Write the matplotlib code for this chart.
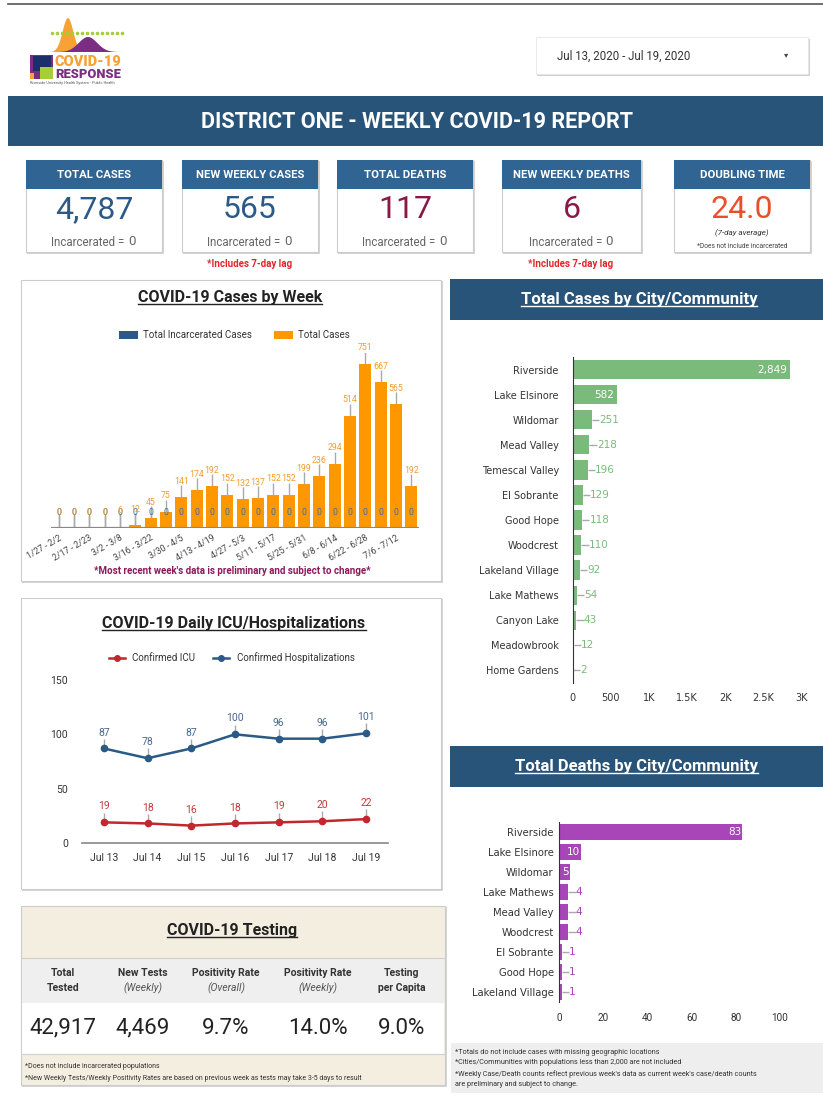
import numpy as np
import matplotlib
matplotlib.use('Agg')
import matplotlib.pyplot as plt
from matplotlib.patches import Rectangle, Polygon

plt.rcParams['font.family'] = ['Roboto', 'DejaVu Sans']

W, H = 823, 1096

# ---- data ----
kpi_titles = ['TOTAL CASES', 'NEW WEEKLY CASES', 'TOTAL DEATHS', 'NEW WEEKLY DEATHS', 'DOUBLING TIME']
kpi_values = ['4,787', '565', '117', '6', '24.0']
kpi_incarcerated = ['0', '0', '0', '0', None]

week_labels = ['1/27 - 2/2', '2/10 - 2/16', '2/17 - 2/23', '2/24 - 3/1', '3/2 - 3/8', '3/9 - 3/15',
               '3/16 - 3/22', '3/23 - 3/29', '3/30 - 4/5', '4/6 - 4/12', '4/13 - 4/19', '4/20 - 4/26',
               '4/27 - 5/3', '5/4 - 5/10', '5/11 - 5/17', '5/18 - 5/24', '5/25 - 5/31', '6/1 - 6/7',
               '6/8 - 6/14', '6/15 - 6/21', '6/22 - 6/28', '6/29 - 7/5', '7/6 - 7/12', '7/13 - 7/19']
total_cases = [0, 0, 0, 0, 6, 12, 45, 75, 141, 174, 192, 152, 132, 137, 152, 152, 199, 236, 294,
               514, 751, 667, 565, 192]
incarcerated_cases = [0, 0, 0, 0, 0, 0, 0, 0, 0, 0, 0, 0, 0, 0, 0, 0, 0, 0, 0, 0, 0, 0, 0, 0]

days = ['Jul 13', 'Jul 14', 'Jul 15', 'Jul 16', 'Jul 17', 'Jul 18', 'Jul 19']
icu = [19, 18, 16, 18, 19, 20, 22]
hosp = [87, 78, 87, 100, 96, 96, 101]

test_headers = [('Total', 'Tested'), ('New Tests', '(Weekly)'), ('Positivity Rate', '(Overall)'),
                ('Positivity Rate', '(Weekly)'), ('Testing', 'per Capita')]
test_values = ['42,917', '4,469', '9.7%', '14.0%', '9.0%']

case_cities = ['Riverside', 'Lake Elsinore', 'Wildomar', 'Mead Valley', 'Temescal Valley', 'El Sobrante',
               'Good Hope', 'Woodcrest', 'Lakeland Village', 'Lake Mathews', 'Canyon Lake',
               'Meadowbrook', 'Home Gardens']
city_cases = [2849, 582, 251, 218, 196, 129, 118, 110, 92, 54, 43, 12, 2]
death_cities = ['Riverside', 'Lake Elsinore', 'Wildomar', 'Lake Mathews', 'Mead Valley', 'Woodcrest',
                'El Sobrante', 'Good Hope', 'Lakeland Village']
city_deaths = [83, 10, 5, 4, 4, 4, 1, 1, 1]

# ---- colours ----
NAVY = '#285479'
CARD_BLUE = '#2f6493'
ORANGE = '#ff9800'
MAROON = '#8a1846'
GREEN = '#7aba7a'
PURPLE = '#a845b8'
ICU_RED = '#c1272d'
HOSP_BLUE = '#2b5a86'

fig = plt.figure(figsize=(W / 100, H / 100), dpi=100)
bg = fig.add_axes([0, 0, 1, 1])
bg.set_xlim(0, W)
bg.set_ylim(H, 0)
bg.axis('off')
renderer = fig.canvas.get_renderer()


def px_axes(x0, y0, x1, y1):
    ax = fig.add_axes([x0 / W, 1 - y1 / H, (x1 - x0) / W, (y1 - y0) / H])
    ax.set_facecolor('none')
    return ax


def rect(x0, y0, x1, y1, fc, ec='none', lw=0, z=1):
    bg.add_patch(Rectangle((x0, y0), x1 - x0, y1 - y0, fc=fc, ec=ec, lw=lw, zorder=z))


def panel(x0, y0, x1, y1, fc='white'):
    rect(x0 + 1, y0 + 1, x1 + 2, y1 + 2, '#d4d4d4', z=1)
    rect(x0, y0, x1, y1, fc, ec='#cccccc', lw=0.8, z=2)


def title(x, y, s, size, color='#222222'):
    t = bg.text(x, y, s, ha='center', va='baseline', fontsize=size, fontweight='bold', color=color, zorder=5)
    w = t.get_window_extent(renderer).width
    bg.plot([x - w / 2, x + w / 2], [y + 2.2, y + 2.2], color=color, lw=1, zorder=5)


# ---- header ----
bg.plot([8, W], [4, 4], color='#555555', lw=1.2)

# logo
xs = np.linspace(44, 104, 80)
bg.add_patch(Polygon(np.column_stack([xs, 52 - 34 * np.exp(-((xs - 68) / 7.5) ** 2)]), fc='#f7a234', zorder=3))
xs2 = np.linspace(52, 128, 80)
bg.add_patch(Polygon(np.column_stack([xs2, 52 - 15 * np.exp(-((xs2 - 88) / 13) ** 2)]), fc='#7b2d83', zorder=4))
bg.scatter(np.arange(52, 126, 5), np.full(15, 33), s=2.5, color='#a6ce39', zorder=5)
rect(30, 55, 53, 79, '#7b2d83', z=3)
rect(33, 56, 51, 71, '#1d2f6b', z=4)
rect(40, 67, 53, 79, '#a6ce39', z=5)
rect(30, 73, 34, 79, '#f7a234', z=5)
bg.text(55, 62, 'COVID-19', fontsize=10.5, fontweight='heavy', color='#f7a234', va='center', zorder=5)
bg.text(55, 74, 'RESPONSE', fontsize=9.3, fontweight='heavy', color='#7b2d83', va='center', zorder=5)
bg.text(30, 83, 'Riverside University Health System - Public Health', fontsize=2.8, color='#555', va='center')

# date box
rect(537, 39, 810, 76, '#d0d0d0', z=1)
rect(536, 37, 808, 74, 'white', ec='#e6e6e6', lw=0.6, z=2)
bg.text(557, 56, 'Jul 13, 2020 - Jul 19, 2020', fontsize=8.3, color='#333333', va='center', zorder=3)
bg.text(786, 55, '\u25be', fontsize=6, color='#444', va='center', ha='center', zorder=3, family='DejaVu Sans')

# banner
rect(8, 96, W, 146, NAVY)
bg.text(417, 122, 'DISTRICT ONE - WEEKLY COVID-19 REPORT', fontsize=15.6, fontweight='bold', color='white',
        ha='center', va='center')

# ---- KPI cards ----
cards = [(26, 162), (182, 318), (337, 473), (502, 641), (674, 810)]
kpi_colors = [HOSP_BLUE, HOSP_BLUE, MAROON, MAROON, '#e8502a']
for (x0, x1), ttl, val, inc, col in zip(cards, kpi_titles, kpi_values, kpi_incarcerated, kpi_colors):
    panel(x0, 160, x1, 252)
    rect(x0, 160, x1, 189, CARD_BLUE, z=3)
    cx = (x0 + x1) / 2
    bg.text(cx, 175, ttl, fontsize=8.2, fontweight='bold', color='white', ha='center', va='center', zorder=4)
    bg.text(cx, 210, val, fontsize=23, fontweight='normal', color=col, ha='center', va='center', zorder=4)
    if inc is not None:
        bg.text(cx - 6, 242, 'Incarcerated =', fontsize=8.3, color='#666666',
                ha='center', va='center', zorder=4)
        bg.text(cx + 38, 241.5, inc, fontsize=9.5, color='#666666', ha='center', va='center', zorder=4)
    else:
        bg.text(cx, 233, '(7-day average)', fontsize=5.8, style='italic', color='#333', ha='center',
                va='center', zorder=4)
        bg.text(cx, 247, '*Does not include incarcerated', fontsize=4.8, color='#444', ha='center',
                va='center', zorder=4)
for cx in [250, 571]:
    bg.text(cx, 264, '*Includes 7-day lag', fontsize=7, fontweight='bold', color='#e0262b',
            ha='center', va='center')

# ---- COVID-19 Cases by Week ----
panel(21, 280, 441, 581)
title(230, 302, 'COVID-19 Cases by Week', 11.5)
rect(119, 331, 138, 339, HOSP_BLUE, z=3)
bg.text(143, 335, 'Total Incarcerated Cases', fontsize=7, color='#333', va='center', zorder=3)
rect(274, 331, 293, 339, ORANGE, z=3)
bg.text(298, 335, 'Total Cases', fontsize=7, color='#333', va='center', zorder=3)

ax1 = px_axes(51, 353, 419, 528)
x = np.arange(len(total_cases))
ax1.bar(x, total_cases, width=0.78, color=ORANGE, zorder=2)
ax1.bar(x, incarcerated_cases, width=0.78, color=HOSP_BLUE, zorder=2)
ax1.set_xlim(-0.5, len(x) - 0.5)
ax1.set_ylim(0, 800)
for i, (v, c) in enumerate(zip(total_cases, incarcerated_cases)):
    ax1.vlines(i, c, c + 62, color='#999999', lw=1, zorder=1)
    ax1.text(i, c + 72, str(c), color='#3f6f9a', fontsize=6.3, ha='center', va='center', zorder=4)
    ax1.vlines(i, v, v + 55, color='#aaaaaa', lw=1, zorder=3)
    ax1.text(i, v + 52, str(v), color='#f79a2a', fontsize=6.3, ha='center', va='bottom', zorder=4)
ax1.axhline(0, color='#888888', lw=1.6, zorder=3)
for s in ax1.spines.values():
    s.set_visible(False)
ax1.set_yticks([])
ax1.set_xticks(x[::2])
ax1.set_xticklabels(week_labels[::2], rotation=30, ha='right', rotation_mode='anchor', fontsize=6.3,
                    color='#444444')
ax1.tick_params(axis='x', length=0, pad=4)
bg.text(232, 571, "*Most recent week's data is preliminary and subject to change*", fontsize=7,
        fontweight='bold', color='#8a1a5a', ha='center', va='center', zorder=3)

# ---- ICU / Hospitalizations ----
panel(21, 598, 441, 889)
title(234, 628, 'COVID-19 Daily ICU/Hospitalizations', 11.5)
bg.plot([109, 125], [658, 658], color=ICU_RED, lw=1.8, zorder=3)
bg.plot([117], [658], color=ICU_RED, marker='o', ms=4, zorder=3)
bg.text(132, 658, 'Confirmed ICU', fontsize=7, color='#333', va='center', zorder=3)
bg.plot([213, 229], [658, 658], color=HOSP_BLUE, lw=1.8, zorder=3)
bg.plot([221], [658], color=HOSP_BLUE, marker='o', ms=4, zorder=3)
bg.text(237, 658, 'Confirmed Hospitalizations', fontsize=7, color='#333', va='center', zorder=3)

ax2 = px_axes(82, 680, 388, 843)
xd = np.arange(len(days))
for series, col, lcol in [(hosp, HOSP_BLUE, '#46698f'), (icu, ICU_RED, '#c0393b')]:
    ax2.plot(xd, series, color=col, lw=1.8, marker='o', ms=4.5, zorder=3)
    for i, v in enumerate(series):
        ax2.vlines(i, v, v + 9, color='#aaaaaa', lw=1, zorder=2)
        ax2.text(i, v + 10, str(v), color=lcol, fontsize=7.5, ha='center', va='bottom', zorder=4)
ax2.set_xlim(-0.5, 6.5)
ax2.set_ylim(0, 150)
for k in ['top', 'right', 'left']:
    ax2.spines[k].set_visible(False)
ax2.spines['bottom'].set_color('#888888')
ax2.spines['bottom'].set_linewidth(1.2)
ax2.set_yticks([0, 50, 100, 150])
ax2.set_xticks(xd)
ax2.set_xticklabels(days)
ax2.tick_params(length=0, labelsize=7.5, labelcolor='#333333')
ax2.tick_params(axis='y', pad=10)
ax2.tick_params(axis='x', pad=7)

# ---- Testing table ----
rect(22, 907, 447, 1087, '#d4d4d4', z=1)
rect(21, 906, 445, 1085, '#f3eedf', ec='#cccccc', lw=0.8, z=2)
rect(22, 958, 444, 1003, '#efefef', z=3)
rect(22, 1003, 444, 1054, 'white', z=3)
bg.plot([22, 444], [958, 958], color='#d0d0d0', lw=0.8, zorder=4)
bg.plot([22, 444], [1054, 1054], color='#d0d0d0', lw=0.8, zorder=4)
title(232, 935, 'COVID-19 Testing', 11.5)
col_x = [63, 143, 226, 318, 402]
for cx, (h1, h2), v in zip(col_x, test_headers, test_values):
    italic = h2.startswith('(')
    bg.text(cx, 973, h1, fontsize=7.5, fontweight='bold', color='#333', ha='center', va='center', zorder=5)
    bg.text(cx, 988, h2, fontsize=7.5, fontweight='normal' if italic else 'bold',
            style='italic' if italic else 'normal', color='#555' if italic else '#333',
            ha='center', va='center', zorder=5)
    bg.text(cx, 1028, v, fontsize=16, color='#222222', ha='center', va='center', zorder=5)
bg.text(25, 1067, '*Does not include incarcerated populations', fontsize=5, color='#333', va='center', zorder=5)
bg.text(25, 1079, '*New Weekly Tests/Weekly Positivity Rates are based on previous week as tests may take '
        '3-5 days to result', fontsize=5, color='#333', va='center', zorder=5)

# ---- Total Cases by City/Community ----
rect(450, 279, W, 320, NAVY, z=2)
title(639, 304, 'Total Cases by City/Community', 12, color='white')

ax3 = px_axes(572.7, 357, 801.7, 683)
yc = np.arange(len(case_cities))
ax3.barh(yc, city_cases, height=0.77, color=GREEN, zorder=2)
ax3.set_xlim(0, 3000)
ax3.set_ylim(len(yc) - 0.5, -0.5)
for i, v in enumerate(city_cases):
    if v > 400:
        ax3.text(v - 40, i, f'{v:,}', color='white', fontsize=7.5, ha='right', va='center', zorder=4,
                 family='DejaVu Sans')
    else:
        ax3.hlines(i, v, v + 100, color='#aaaaaa', lw=1, zorder=1)
        ax3.text(v + 100, i, f'{v:,}', color=GREEN, fontsize=7.5, ha='left', va='center', zorder=4,
                 family='DejaVu Sans')
for k in ['top', 'right', 'bottom']:
    ax3.spines[k].set_visible(False)
ax3.spines['left'].set_color('#333333')
ax3.set_yticks(yc)
ax3.set_yticklabels(case_cities, family='DejaVu Sans')
ax3.set_xticks([0, 500, 1000, 1500, 2000, 2500, 3000])
ax3.set_xticklabels(['0', '500', '1K', '1.5K', '2K', '2.5K', '3K'], family='DejaVu Sans')
ax3.tick_params(length=0, labelsize=7, labelcolor='#333333')
ax3.tick_params(axis='y', pad=10)
ax3.tick_params(axis='x', pad=7)

# ---- Total Deaths by City/Community ----
rect(450, 746, W, 787, NAVY, z=2)
title(637, 771, 'Total Deaths by City/Community', 12, color='white')

ax4 = px_axes(559.3, 822.5, 780, 1002.3)
yd = np.arange(len(death_cities))
ax4.barh(yd, city_deaths, height=0.8, color=PURPLE, zorder=2)
ax4.set_xlim(0, 100)
ax4.set_ylim(len(yd) - 0.5, -0.5)
for i, v in enumerate(city_deaths):
    if v >= 5:
        ax4.text(v - 0.6, i, str(v), color='white', fontsize=7.5, ha='right', va='center', zorder=4,
                 family='DejaVu Sans')
    else:
        ax4.hlines(i, v, v + 3.5, color='#aaaaaa', lw=1, zorder=1)
        ax4.text(v + 3.5, i, str(v), color=PURPLE, fontsize=7.5, ha='left', va='center', zorder=4,
                 family='DejaVu Sans')
for k in ['top', 'right', 'bottom']:
    ax4.spines[k].set_visible(False)
ax4.spines['left'].set_color('#333333')
ax4.set_yticks(yd)
ax4.set_yticklabels(death_cities, family='DejaVu Sans')
ax4.set_xticks([0, 20, 40, 60, 80, 100])
ax4.tick_params(length=0, labelsize=7.2, labelcolor='#333333')
ax4.tick_params(axis='y', pad=4)
ax4.tick_params(axis='x', pad=8)

# notes
rect(451, 1043, W, 1093, '#eeeeee', z=2)
notes = ['*Totals do not include cases with missing geographic locations',
         '*Cities/Communities with populations less than 2,000 are not included',
         "*Weekly Case/Death counts reflect previous week's data as current week's case/death counts",
         'are preliminary and subject to change.']
for k, n in enumerate(notes):
    bg.text(455, 1052 + 11 * k, n, fontsize=5.2, color='#333', va='center', zorder=3)

fig.savefig('out.png', dpi=100)
